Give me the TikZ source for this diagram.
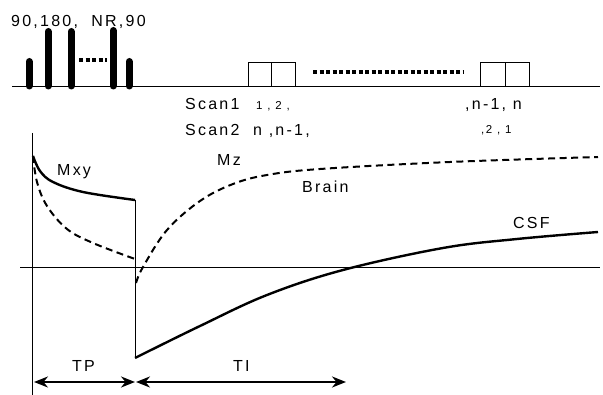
\documentclass[tikz,border=0pt]{standalone}
\usepackage{fontspec}
\setmainfont{Liberation Sans}[LetterSpace=14]
\usetikzlibrary{arrows.meta}
\begin{document}
\begin{tikzpicture}[x=1pt,y=-1pt,
  lbl/.style={inner sep=0pt,anchor=base west,font=\fontsize{16}{18}\selectfont},
  small/.style={inner sep=0pt,anchor=base west,font=\fontsize{11.5}{13}\selectfont},
  thin/.style={line width=1pt},
  pulse/.style={line width=7pt,line cap=round},
  dots/.style={line width=4pt,dash pattern=on 4pt off 2.5pt},
  curve/.style={line width=2.4pt},
  dcurve/.style={line width=2pt,dash pattern=on 7pt off 4.5pt},
  dim/.style={line width=2pt,{Stealth[length=14pt,width=11pt]}-{Stealth[length=14pt,width=11pt]}}]
\useasboundingbox (0,0) rectangle (603,395);

% pulse sequence line
\coordinate (s0) at (12,87);
\coordinate (s1) at (600,87);
\draw[thin] (s0) -- (s1);

% RF pulses
\node[lbl] (rf) at (11,27) {90,180,\ \ NR,90};
\foreach \x/\t [count=\i] in {29/61.5,48/31.5,71/31.5,113/30.5,129/61.5}{
  \coordinate (pb\i) at (\x,86);
  \coordinate (pt\i) at (\x,\t);
  \draw[pulse] (pb\i) -- (pt\i);
}
\coordinate (d0) at (79,60);
\coordinate (d1) at (107,60);
\draw[dots] (d0) -- (d1);

% readout blocks
\foreach \a/\b/\c [count=\i] in {248/271/295,480/505/529}{
  \draw[thin] (\a,87) rectangle (\b,63);
  \draw[thin] (\b,87) rectangle (\c,63);
}
\coordinate (e0) at (313,72);
\coordinate (e1) at (464,72);
\draw[dots] (e0) -- (e1);

% acquisition order
\node[lbl] (sc1) at (185,110) {Scan1};
\node[small] (sc1a) at (256,110) {1 , 2 ,};
\node[lbl] (sc1b) at (465,110) {,n-1, n};
\node[lbl] (sc2) at (185,136) {Scan2};
\node[lbl] (sc2a) at (253,136) {n ,n-1,};
\node[small] (sc2b) at (481,134) {,2 , 1};

% axes
\coordinate (vy0) at (32.5,133);
\coordinate (vy1) at (32.5,395);
\draw[thin] (vy0) -- (vy1);
\coordinate (hx0) at (20,268);
\coordinate (hx1) at (600,268);
\draw[thin] (hx0) -- (hx1);

% transverse magnetisation during the train
\draw[curve] plot[smooth,tension=0.6] coordinates {(33,156) (40,171) (53,182) (83,192) (135,200)};
\draw[dcurve] plot[smooth,tension=0.6] coordinates {(33,156) (37,182) (47,206) (67,229) (93,243) (135,259)};
\coordinate (inv0) at (135,200);
\coordinate (inv1) at (135,358);
\draw[thin] (inv0) -- (inv1);

% longitudinal recovery
\draw[dcurve] plot[smooth,tension=0.6] coordinates {(136,283) (143,267) (167,230) (200,201) (233,184) (267,175) (320,169) (450,162) (598,157)};
\draw[curve] plot[smooth,tension=0.6] coordinates {(135,358) (200,326) (267,295) (343,270) (443,248) (517,239) (598,232)};

% curve labels
\node[lbl] (mxy) at (57,176) {Mxy};
\node[lbl] (mz) at (217,166) {Mz};
\node[lbl] (brain) at (302,193) {Brain};
\node[lbl] (csf) at (513,229) {CSF};

% timing intervals
\coordinate (tp0) at (34,382);
\coordinate (tp1) at (135,382);
\coordinate (ti0) at (136,382);
\coordinate (ti1) at (346,382);
\draw[dim] (tp0) -- (tp1);
\draw[dim] (ti0) -- (ti1);
\node[lbl] (tp) at (72,372) {TP};
\node[lbl] (ti) at (233,372) {TI};
\end{tikzpicture}
\end{document}
